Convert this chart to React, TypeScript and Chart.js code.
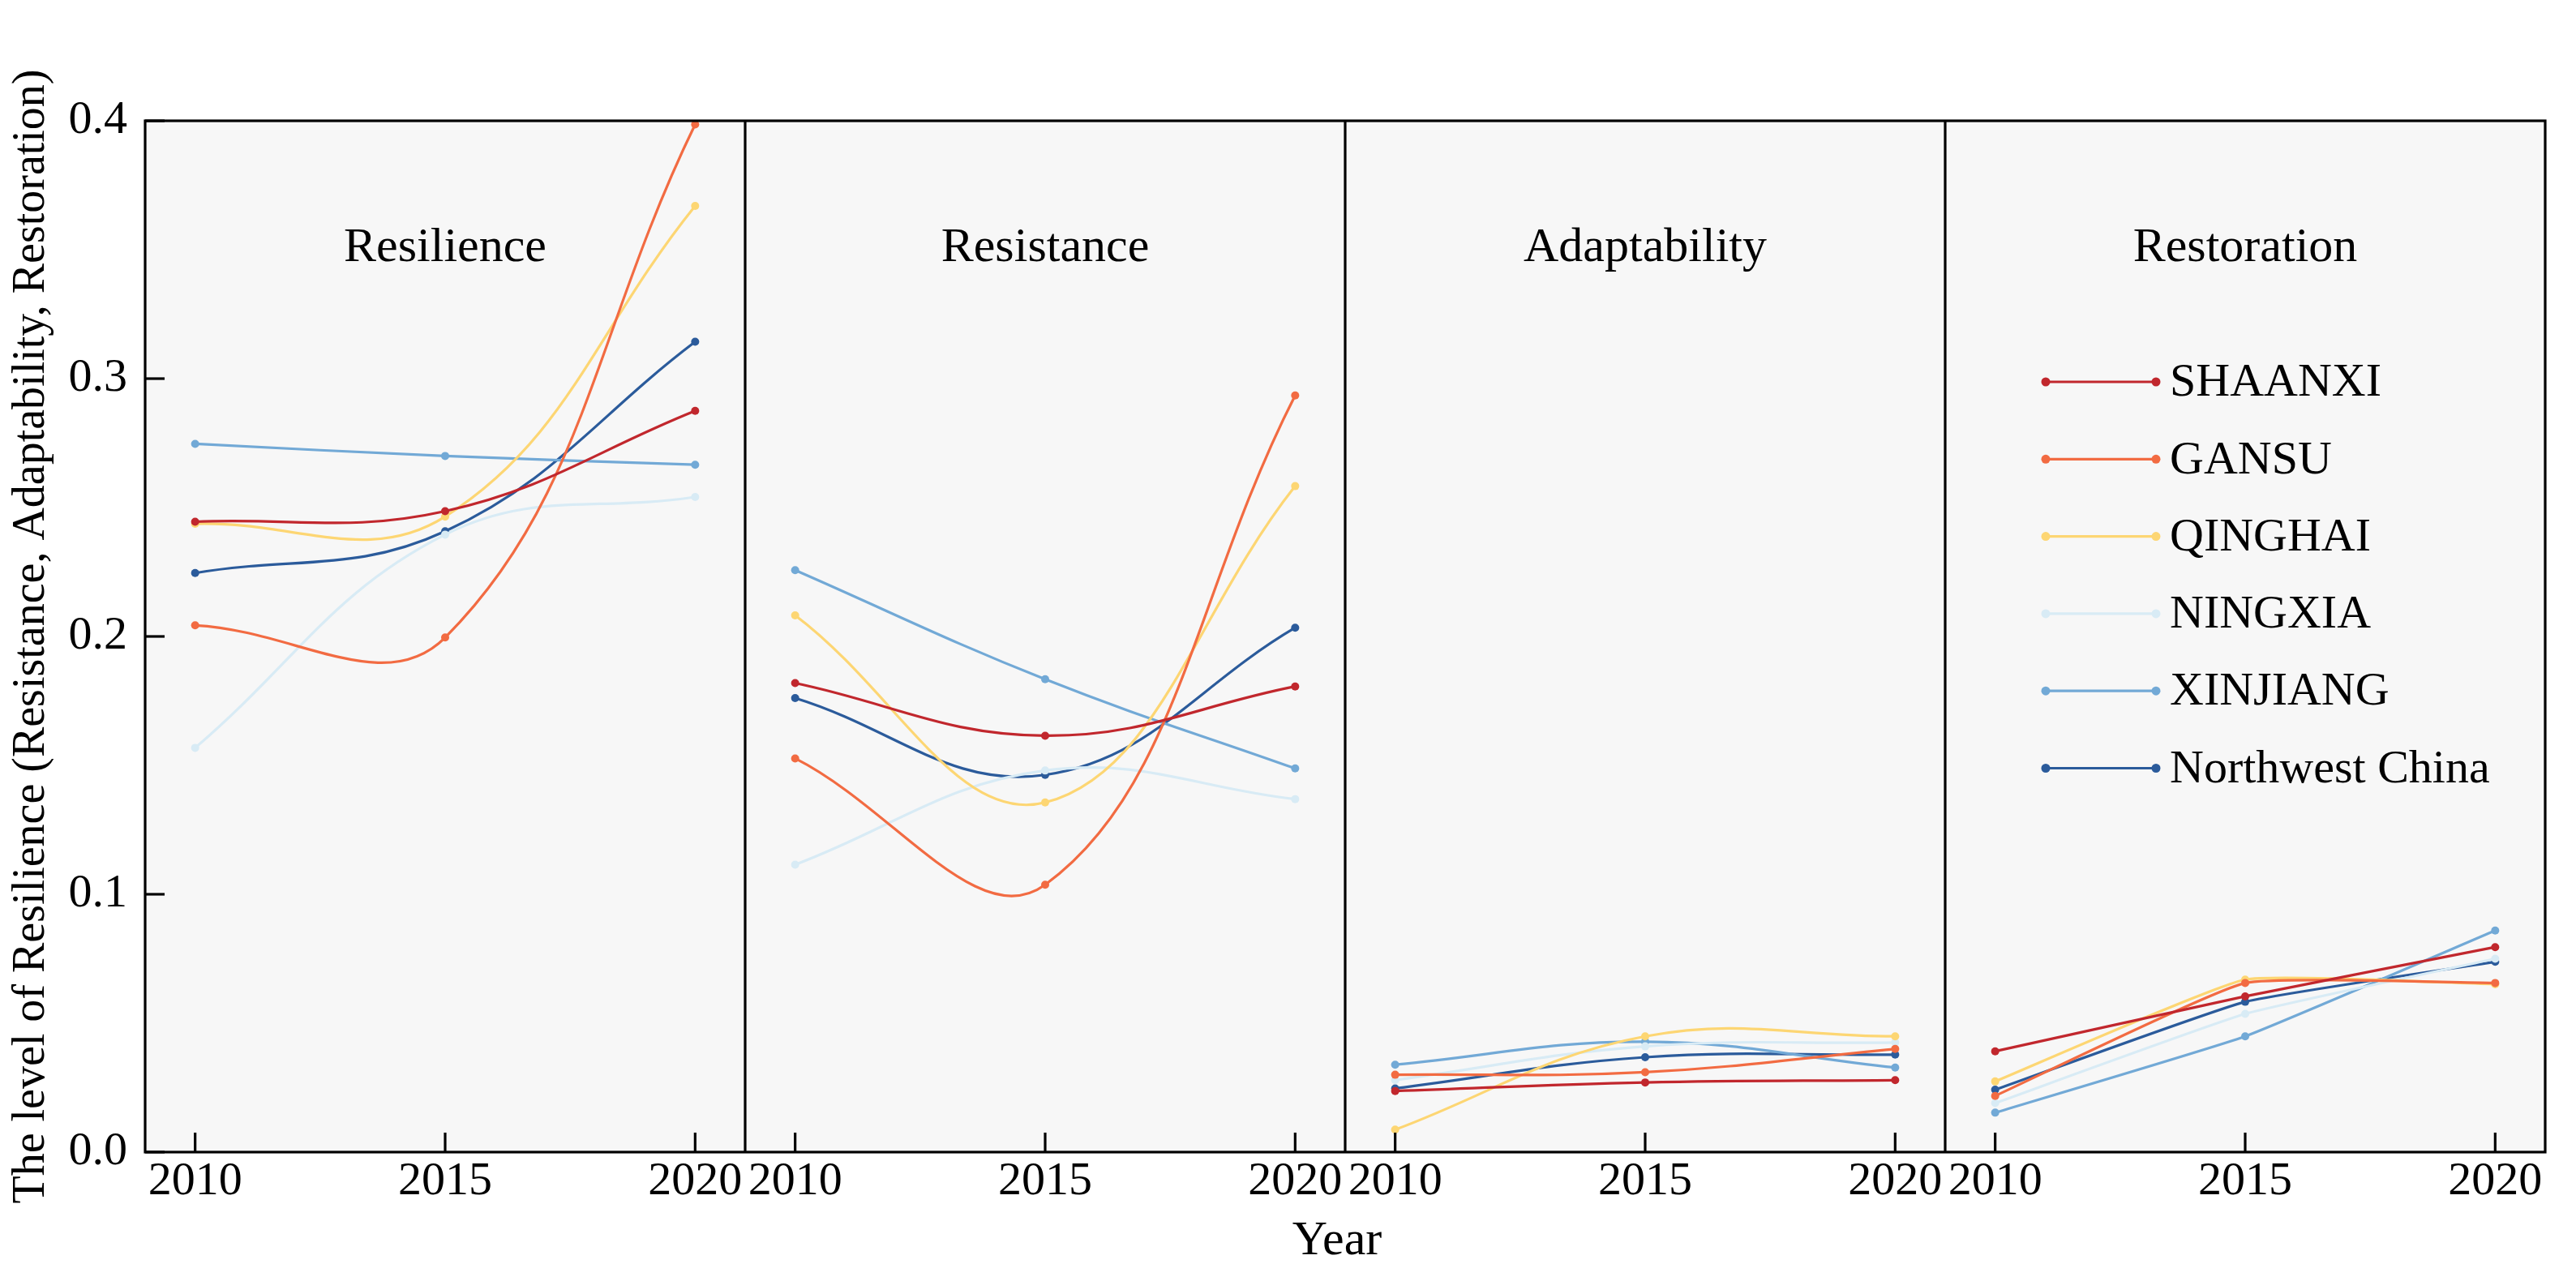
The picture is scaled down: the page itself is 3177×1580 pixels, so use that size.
import React, { useEffect, useRef } from "react";
import { Chart, registerables } from "chart.js";

Chart.register(...registerables);

const years = [2010, 2015, 2020];
const panels = ["Resilience", "Resistance", "Adaptability", "Restoration"];
const panelTension = [0.4, 0.4, 0.4, 0.12];
const regions = ["SHAANXI", "GANSU", "QINGHAI", "NINGXIA", "XINJIANG", "Northwest China"];
const colors = ["#c1272d", "#f26b42", "#fdd673", "#d8ebf5", "#72a9d6", "#2b5b9b"];
const yTicks = [0, 0.1, 0.2, 0.3, 0.4];
const yTitle = "The level of Resilience (Resistance, Adaptability, Restoration)";
const xTitle = "Year";

// each region: one [2010, 2015, 2020] list per panel (Resilience, Resistance, Adaptability, Restoration)
const shaanxi = [
  [0.2445, 0.2486, 0.2875],
  [0.1819, 0.1615, 0.1806],
  [0.0237, 0.027, 0.0279],
  [0.0391, 0.0604, 0.0795],
];
const gansu = [
  [0.2043, 0.1996, 0.3986],
  [0.1527, 0.1037, 0.2935],
  [0.03, 0.031, 0.04],
  [0.0218, 0.0656, 0.0656],
];
const qinghai = [
  [0.2437, 0.2465, 0.367],
  [0.2082, 0.1356, 0.2583],
  [0.0087, 0.0449, 0.0449],
  [0.0274, 0.0669, 0.0651],
];
const ningxia = [
  [0.1568, 0.2395, 0.2541],
  [0.1115, 0.148, 0.1369],
  [0.0279, 0.041, 0.0425],
  [0.019, 0.0536, 0.075],
];
const xinjiang = [
  [0.2747, 0.27, 0.2666],
  [0.2257, 0.1834, 0.1488],
  [0.0339, 0.0428, 0.0328],
  [0.0153, 0.0449, 0.0859],
];
const northwest = [
  [0.2246, 0.2408, 0.3143],
  [0.1761, 0.1463, 0.2034],
  [0.0247, 0.0368, 0.0378],
  [0.0242, 0.0583, 0.0738],
];
const seriesValues = [shaanxi, gansu, qinghai, ningxia, xinjiang, northwest];

const FAMILY = "'Liberation Serif', 'Times New Roman', serif";

export default function App() {
  const ref = useRef<HTMLCanvasElement | null>(null);

  useEffect(() => {
    if (!ref.current) return;

    const datasets: any[] = [];
    panels.forEach((_, p) => {
      regions.forEach((name, r) => {
        datasets.push({
          label: name,
          xAxisID: `x${p}`,
          yAxisID: "y",
          data: years.map((yr, i) => ({ x: yr, y: seriesValues[r][p][i] })),
          borderColor: colors[r],
          backgroundColor: colors[r],
          pointBackgroundColor: colors[r],
          pointBorderColor: colors[r],
          pointBorderWidth: 0,
          pointRadius: 5,
          borderWidth: 3.2,
          tension: panelTension[p],
          fill: false,
        });
      });
    });

    const scales: any = {
      y: {
        type: "linear",
        position: "left",
        min: 0,
        max: 0.4,
        afterBuildTicks: (s: any) => {
          s.ticks = yTicks.map((v) => ({ value: v }));
        },
        ticks: {
          font: { family: FAMILY, size: 58 },
          color: "#000",
          padding: 22,
          callback: (v: any) => Number(v).toFixed(1),
        },
        grid: { display: false, drawTicks: false },
        border: { display: false },
        title: {
          display: true,
          text: yTitle,
          font: { family: FAMILY, size: 56 },
          color: "#000",
          padding: { top: 6, bottom: 0 },
        },
        afterFit: (s: any) => {
          s.width = 179;
        },
      },
    };
    panels.forEach((_, p) => {
      scales[`x${p}`] = {
        type: "linear",
        position: "bottom",
        stack: "panels",
        stackWeight: 1,
        min: 2009,
        max: 2021,
        afterBuildTicks: (s: any) => {
          s.ticks = years.map((v) => ({ value: v }));
        },
        ticks: {
          font: { family: FAMILY, size: 58 },
          color: "#000",
          padding: 2,
          autoSkip: false,
          maxRotation: 0,
          callback: (v: any) => String(v),
        },
        grid: { display: false, drawTicks: false },
        border: { display: false },
        afterFit: (s: any) => {
          s.height = 159;
        },
      };
    });

    const decor = {
      id: "decor",
      beforeDraw(chart: any) {
        const { ctx, chartArea: a } = chart;
        ctx.save();
        ctx.fillStyle = "#f7f7f7";
        ctx.fillRect(a.left, a.top, a.right - a.left, a.bottom - a.top);
        ctx.restore();
      },
      afterDraw(chart: any) {
        const { ctx, chartArea: a, scales: sc } = chart;
        const line = (x1: number, y1: number, x2: number, y2: number) => {
          ctx.beginPath();
          ctx.moveTo(x1, y1);
          ctx.lineTo(x2, y2);
          ctx.stroke();
        };
        ctx.save();
        ctx.strokeStyle = "#000";
        ctx.lineWidth = 3.2;
        const ys = sc.y;
        yTicks.forEach((v) => {
          const py = ys.getPixelForValue(v);
          line(a.left, py, a.left + 24, py);
        });
        ctx.fillStyle = "#000";
        ctx.textAlign = "center";
        ctx.textBaseline = "middle";
        ctx.font = `60px ${FAMILY}`;
        panels.forEach((name, p) => {
          const sx = sc[`x${p}`];
          years.forEach((yr) => {
            const px = sx.getPixelForValue(yr);
            line(px, a.bottom, px, a.bottom - 24);
          });
          if (p > 0) line(sx.left, a.top, sx.left, a.bottom);
          ctx.fillText(name, (sx.left + sx.right) / 2, a.top + 157);
        });
        ctx.strokeRect(a.left, a.top, a.right - a.left, a.bottom - a.top);
        ctx.fillText(xTitle, (a.left + a.right) / 2 - 10, a.bottom + 110);

        // legend inside the last panel
        const lx = sc[`x${panels.length - 1}`].left;
        ctx.textAlign = "left";
        ctx.font = `58px ${FAMILY}`;
        regions.forEach((name, i) => {
          const yy = a.top + 322 + i * 95.3;
          ctx.strokeStyle = colors[i];
          ctx.fillStyle = colors[i];
          ctx.lineWidth = 3.2;
          line(lx + 124, yy, lx + 260, yy);
          [lx + 124, lx + 260].forEach((cx) => {
            ctx.beginPath();
            ctx.arc(cx, yy, 5.5, 0, Math.PI * 2);
            ctx.fill();
          });
          ctx.fillStyle = "#000";
          ctx.fillText(name, lx + 277, yy + 2);
        });
        ctx.restore();
      },
    };

    const chart = new Chart(ref.current, {
      type: "line",
      data: { datasets },
      options: {
        animation: false,
        responsive: true,
        maintainAspectRatio: false,
        events: [],
        layout: { padding: { top: 149, right: 38, left: 0, bottom: 0 } },
        plugins: { legend: { display: false }, tooltip: { enabled: false } },
        scales,
      } as any,
      plugins: [decor],
    });
    return () => chart.destroy();
  }, []);

  return (
    <div style={{ position: "fixed", left: 0, top: 0, width: 3177, height: 1580, background: "#fff" }}>
      <canvas ref={ref} />
    </div>
  );
}
